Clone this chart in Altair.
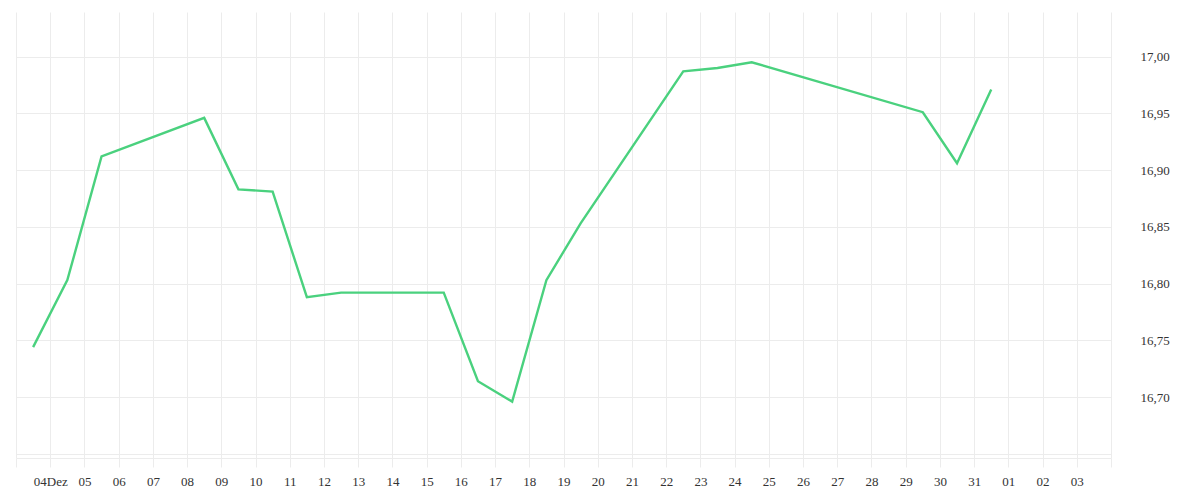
import altair as alt
import pandas as pd

# Fechamentos diários (dez/2025)
days = ['2025-12-03', '2025-12-04', '2025-12-05', '2025-12-08', '2025-12-09',
        '2025-12-10', '2025-12-11', '2025-12-12', '2025-12-15', '2025-12-16',
        '2025-12-17', '2025-12-18', '2025-12-19', '2025-12-22', '2025-12-23',
        '2025-12-24', '2025-12-29', '2025-12-30', '2025-12-31']
values = [16.744, 16.803, 16.912, 16.946, 16.883,
          16.881, 16.788, 16.792, 16.792, 16.714,
          16.696, 16.803, 16.853, 16.987, 16.990,
          16.995, 16.951, 16.906, 16.971]
y_ticks = [16.65, 16.70, 16.75, 16.80, 16.85, 16.90, 16.95, 17.00]

df = pd.DataFrame({'date': [f'{d}T12:00:00' for d in days], 'value': values})

grid = '#ececec'
font = 'Liberation Serif'

x_label = ("(month(datum.value) == 11 && date(datum.value) == 3) || "
           "(month(datum.value) == 0 && date(datum.value) == 4) ? '' : "
           "(month(datum.value) == 11 && date(datum.value) == 4) ? '04Dez' : "
           "timeFormat(datum.value, '%d')")
y_label = "datum.value < 16.66 ? '' : replace(format(datum.value, '.2f'), '.', ',')"

chart = alt.Chart(df).mark_line(color='#4ad17e', strokeWidth=2.4).encode(
    x=alt.X('date:T', title=None,
            scale=alt.Scale(domain=[alt.DateTime(year=2025, month=12, date=3),
                                    alt.DateTime(year=2026, month=1, date=4)]),
            axis=alt.Axis(tickCount={'interval': 'day', 'step': 1}, labelExpr=x_label,
                          grid=True, gridColor=grid, tickColor=grid, tickSize=9,
                          domainColor=grid, labelColor='#333', labelFont=font,
                          labelFontSize=13, labelPadding=8, labelFlush=False,
                          labelOverlap=False)),
    y=alt.Y('value:Q', title=None,
            scale=alt.Scale(domain=[16.6463, 17.0393], nice=False, zero=False),
            axis=alt.Axis(orient='right', values=y_ticks, labelExpr=y_label,
                          grid=True, gridColor=grid, ticks=False, domain=False,
                          labelColor='#333', labelFont=font, labelFontSize=13,
                          labelPadding=29)),
).properties(
    width=1095, height=446,
    padding={'left': 7, 'top': 4, 'right': 5, 'bottom': 5}
).configure_view(stroke=None)

chart.save('out.html', embed_options={'renderer': 'svg', 'actions': False})
